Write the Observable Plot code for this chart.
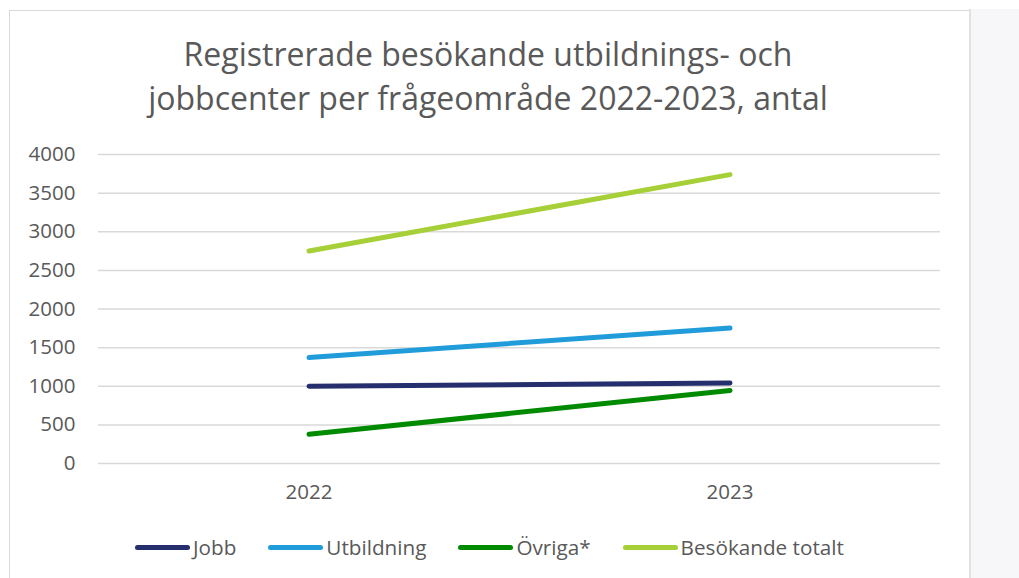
<!DOCTYPE html>
<html>
<head>
<meta charset="utf-8">
<script src="https://cdn.jsdelivr.net/npm/d3@7"></script>
<script src="https://cdn.jsdelivr.net/npm/@observablehq/plot@0.6"></script>
<style>
  html, body { margin: 0; padding: 0; background: #fff; }
  #wrap { position: relative; width: 1019px; height: 578px; overflow: hidden; background: #fff; font-family: "Open Sans", sans-serif; color: #595959; }
  #panel { position: absolute; left: 969px; top: 9px; width: 50px; height: 580px; background: #f7f6f9; border-left: 2px solid #e2e2e2; }
  #box { position: absolute; left: 9px; top: 10px; width: 960px; height: 600px; border: 1px solid #d9d9d9; border-right: none; }
  #title { position: absolute; left: 0; width: 976px; top: 32px; text-align: center; font-size: 32px; font-weight: 400; line-height: 44px; color: #595959; white-space: nowrap; }
  #chart { position: absolute; left: 0; top: 0; }
  #legend { position: absolute; left: 135px; top: 534px; display: flex; font-size: 20.7px; line-height: 27px; white-space: nowrap; }
  .item { display: flex; align-items: center; margin-right: 32px; }
  .sw { width: 55px; height: 5px; border-radius: 3px; margin-right: 3px; }
</style>
</head>
<body>
<div id="wrap">
  <div id="box"></div>
  <div id="panel"></div>
  <div id="title">Registrerade besökande utbildnings- och<br>jobbcenter per frågeområde 2022-2023, antal</div>
  <div id="chart"></div>
  <div id="legend"></div>
</div>
<script>
// Data
const years = ["2022", "2023"];
const seriesNames = ["Jobb", "Utbildning", "Övriga*", "Besökande totalt"];
const jobb = [1000, 1042];
const utbildning = [1371, 1754];
const ovriga = [379, 944];
const totalt = [2750, 3740];
const yTicks = [0, 500, 1000, 1500, 2000, 2500, 3000, 3500, 4000];

// Styles
const seriesColors = ["#262f6e", "#1f9cd9", "#008a00", "#a6cf38"];

const valuesBySeries = [jobb, utbildning, ovriga, totalt];
const rows = [];
seriesNames.forEach((s, i) => years.forEach((yr, j) => rows.push({series: s, year: yr, value: valuesBySeries[i][j]})));

const chart = Plot.plot({
  width: 1019,
  height: 520,
  marginLeft: 98,
  marginRight: 79,
  marginTop: 154,
  marginBottom: 57,
  style: {fontFamily: "'Open Sans', sans-serif", fontSize: "20px", color: "#595959", background: "transparent", overflow: "visible"},
  x: {type: "band", domain: years, padding: 0},
  y: {domain: [0, 4000]},
  color: {domain: seriesNames, range: seriesColors},
  marks: [
    Plot.gridY(yTicks, {stroke: "#d9d9d9", strokeOpacity: 1, strokeWidth: 1.5}),
    Plot.axisY({ticks: yTicks, tickFormat: d => String(d), tickSize: 0, tickPadding: 23, label: null, fill: "#595959", fontSize: 20.5}),
    Plot.axisX({tickSize: 0, tickPadding: 21, label: null, fill: "#595959", fontSize: 20.5}),
    Plot.line(rows, {x: "year", y: "value", z: "series", stroke: "series", strokeWidth: 5, strokeLinecap: "round", strokeLinejoin: "round"})
  ]
});
document.getElementById("chart").appendChild(chart);

const legend = document.getElementById("legend");
seriesNames.forEach((s, i) => {
  const it = document.createElement("div");
  it.className = "item";
  const sw = document.createElement("div");
  sw.className = "sw";
  sw.style.background = seriesColors[i];
  const tx = document.createElement("span");
  tx.textContent = s;
  it.appendChild(sw); it.appendChild(tx);
  legend.appendChild(it);
});
</script>
</body>
</html>
